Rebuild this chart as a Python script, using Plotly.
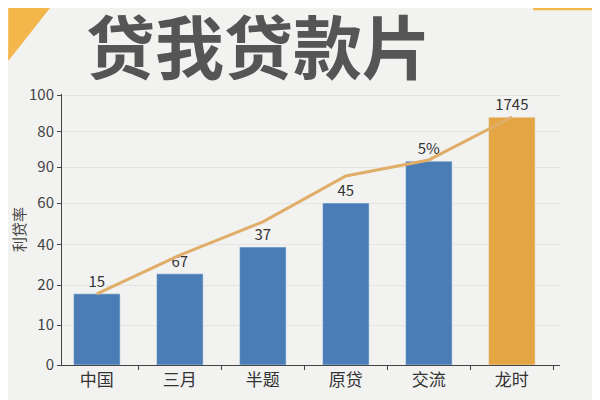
import plotly.graph_objects as go

# categories and values (axis units)
cats = ["中国", "三月", "半题", "原贷", "交流", "龙时"]
bar_vals = [1.78, 2.28, 2.95, 4.05, 5.1, 6.2]
bar_text = ["15", "67", "37", "45", "5%", "1745"]
line_vals = [1.78, 2.75, 3.58, 4.73, 5.13, 6.2]

# y axis ticks (the labels are not in order on the original)
tick_pos = [0, 1, 2, 3.02, 4.05, 4.95, 5.83, 6.75]
tick_lab = ["0", "10", "20", "40", "60", "90", "80", "100"]

BLUE = "#4a7db5"
ORANGE = "#e3a643"

fig = go.Figure()
fig.add_trace(go.Bar(
    x=cats, y=bar_vals, text=bar_text, textposition="outside",
    marker_color=[BLUE] * 5 + [ORANGE], width=0.56,
    textfont=dict(size=15, color="#333333"), cliponaxis=False,
))
fig.add_trace(go.Scatter(
    x=cats, y=line_vals, mode="lines",
    line=dict(color="#e0ae68", width=3),
))

fig.update_layout(
    width=600, height=400,
    margin=dict(l=54, r=48, t=86, b=43, autoexpand=False),
    paper_bgcolor="#f2f2f1", plot_bgcolor="#f2f2f1",
    showlegend=False,
    font=dict(family="Noto Sans CJK SC", color="#333333"),
    annotations=[dict(
        text="<b>贷我贷款片</b>", x=0.394, y=1.185, xref="paper", yref="paper",
        xanchor="center", yanchor="middle", showarrow=False,
        font=dict(size=69, color="#555555", family="Noto Sans CJK SC"),
    )],
    shapes=[
        dict(type="path", xref="paper", yref="paper",
             path="M -0.108 1.317 L -0.024 1.317 L -0.108 1.122 Z",
             fillcolor="#f3b64a", line_width=0),
        dict(type="rect", xref="paper", yref="paper",
             x0=0.946, x1=1.1, y0=1.309, y1=1.317,
             fillcolor="#f3b64a", line_width=0),
    ],
)
fig.update_xaxes(
    range=[-0.42, 5.58], showline=True, linecolor="#444444", linewidth=1,
    ticks="outside", tickson="boundaries", ticklen=4, tickcolor="#444444",
    tickfont=dict(size=17, color="#333333"), showgrid=False,
)
fig.update_yaxes(
    range=[0, 6.78], tickvals=tick_pos, ticktext=tick_lab,
    showline=True, linecolor="#444444", linewidth=1,
    ticks="outside", ticklen=4, tickcolor="#444444",
    tickfont=dict(size=15, color="#444444"),
    gridcolor="#e4e4e4", zeroline=False,
    title=dict(text="利贷率", font=dict(size=15, color="#444444"), standoff=4),
)

fig.write_html("out.html")
